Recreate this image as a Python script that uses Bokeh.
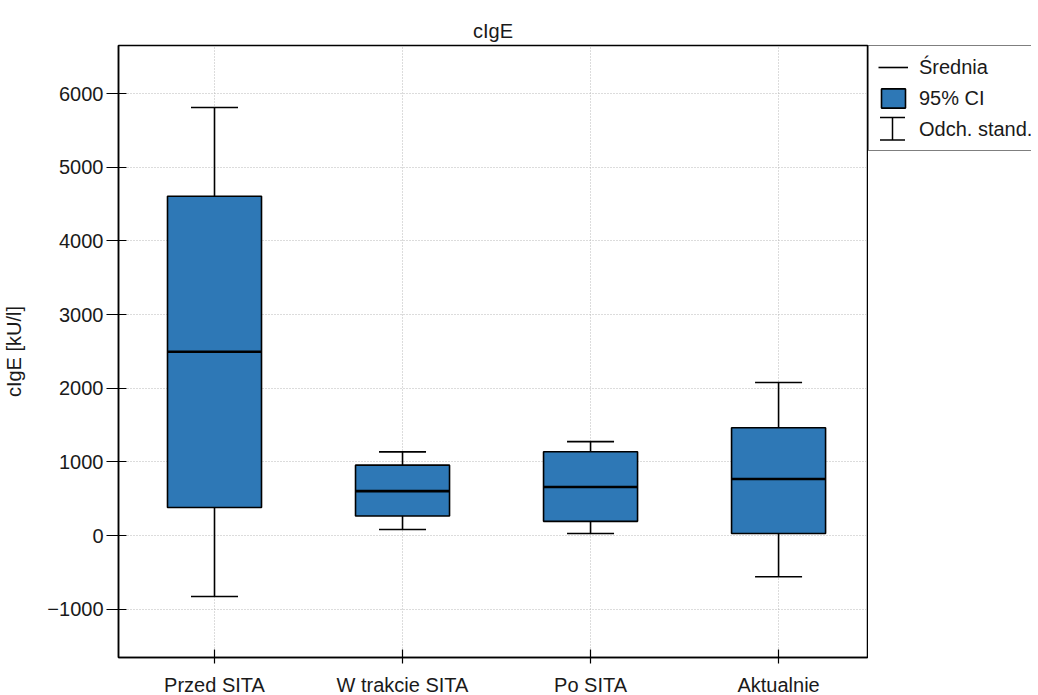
from bokeh.plotting import figure
from bokeh.layouts import row
from bokeh.models import (Range1d, FixedTicker, Legend, LegendItem,
                          ColumnDataSource)
from bokeh.embed import file_html
from bokeh.resources import INLINE

# ---- data ----
categories = ["Przed SITA", "W trakcie SITA", "Po SITA", "Aktualnie"]
positions = [1, 2, 3, 4]
means = [2495, 603, 658, 767]
ci_low = [380, 265, 192, 27]
ci_high = [4605, 955, 1137, 1462]
sd_low = [-828, 82, 27, -560]
sd_high = [5810, 1135, 1275, 2078]
y_ticks = [-1000, 0, 1000, 2000, 3000, 4000, 5000, 6000]
legend_labels = ["Średnia", "95% CI", "Odch. stand."]

FONT = "Liberation Sans"
FS = "20px"
BOX_W = 0.5
CAP_W = 0.25
BLUE = "#2e78b6"
TXT = "#1a1a1a"

src = ColumnDataSource(dict(
    x=positions, mean=means, lo=ci_low, hi=ci_high, sdl=sd_low, sdh=sd_high,
    bl=[x - BOX_W / 2 for x in positions], br=[x + BOX_W / 2 for x in positions],
    cl=[x - CAP_W / 2 for x in positions], cr=[x + CAP_W / 2 for x in positions],
))

p = figure(frame_width=749, frame_height=612,
           min_border_left=109, min_border_right=1,
           min_border_top=45, min_border_bottom=38,
           x_range=Range1d(0.4894, 4.473), y_range=Range1d(-1656, 6652),
           output_backend="svg", toolbar_location=None, title="cIgE")

p.background_fill_color = "white"
p.border_fill_color = "white"
p.outline_line_color = "black"
p.outline_line_width = 1.5

p.title.align = "center"
p.title.text_font = FONT
p.title.text_font_size = FS
p.title.text_font_style = "normal"
p.title.text_color = TXT
p.title.standoff = 8

# axes
p.xaxis.ticker = FixedTicker(ticks=positions)
p.xaxis.major_label_overrides = {x: c for x, c in zip(positions, categories)}
p.yaxis.ticker = FixedTicker(ticks=y_ticks)
p.yaxis.axis_label = "cIgE [kU/l]"
for ax in (p.xaxis, p.yaxis):
    ax.axis_line_color = "black"
    ax.axis_line_width = 1.5
    ax.major_tick_line_color = "black"
    ax.major_tick_line_width = 1.2
    ax.minor_tick_line_color = None
    ax.major_label_text_font = FONT
    ax.major_label_text_font_size = FS
    ax.major_label_text_color = TXT
    ax.axis_label_text_font = FONT
    ax.axis_label_text_font_size = FS
    ax.axis_label_text_font_style = "normal"
    ax.axis_label_text_color = TXT
p.xaxis.major_tick_in = 8
p.xaxis.major_tick_out = 6
p.xaxis.major_label_standoff = 10
p.yaxis.major_tick_in = 8
p.yaxis.major_tick_out = 12
p.yaxis.major_label_standoff = 3
p.yaxis.axis_label_standoff = 19

for g in (p.xgrid, p.ygrid):
    g.grid_line_color = "#b8b8b8"
    g.grid_line_dash = "1 2"
    g.grid_line_width = 1

# SD stems and caps
p.segment(x0="x", y0="sdl", x1="x", y1="sdh", source=src,
          line_color="black", line_width=1.6)
p.segment(x0="cl", y0="sdh", x1="cr", y1="sdh", source=src,
          line_color="black", line_width=1.6)
p.segment(x0="cl", y0="sdl", x1="cr", y1="sdl", source=src,
          line_color="black", line_width=1.6)

# 95% CI boxes
p.vbar(x="x", width=BOX_W, bottom="lo", top="hi", source=src,
       fill_color=BLUE, line_color="black", line_width=1.6)

# means
p.segment(x0="bl", y0="mean", x1="br", y1="mean", source=src,
          line_color="black", line_width=2.6)

# ---- legend panel (separate figure to the right of the plot frame) ----
lg = figure(width=163, height=687, min_border=0, min_border_top=45,
            x_range=Range1d(0, 163), y_range=Range1d(642, 0),
            x_axis_type=None, y_axis_type=None,
            output_backend="svg", toolbar_location=None)
lg.outline_line_color = None
lg.background_fill_color = "white"
lg.border_fill_color = "white"
lg.xgrid.visible = False
lg.ygrid.visible = False
# sample glyphs placed outside the visible range (only used for legend swatches)
sample = ColumnDataSource(dict(x0=[-60], x1=[-40], x=[-50], y=[-60],
                               top=[-50], bottom=[-70], t=[""]))
r_mean = lg.segment(x0="x0", y0="y", x1="x1", y1="y", source=sample,
                    line_color="black", line_width=1.6)
r_box = lg.vbar(x="x", width=20, top="top", bottom="bottom", source=sample,
                fill_color=BLUE, line_color="black", line_width=1.6)
r_sd = lg.text(x="x", y="y", text="t", source=sample)

# I-beam symbol for the SD legend entry (visible through transparent legend)
ibeam = ColumnDataSource(dict(x=[24, 11.5, 11.5], x1=[24, 36.5, 36.5],
                              y0=[77, 77, 101], y1=[101, 77, 101]))
lg.segment(x0="x", y0="y0", x1="x1", y1="y1", source=ibeam,
           line_color="black", line_width=1.5)

legend = Legend(items=[
    LegendItem(label=legend_labels[0], renderers=[r_mean]),
    LegendItem(label=legend_labels[1], renderers=[r_box]),
    LegendItem(label=legend_labels[2], renderers=[r_sd]),
], location="top_left")
legend.margin = 0
legend.padding = 9
legend.spacing = 7
legend.glyph_width = 30
legend.glyph_height = 24
legend.label_height = 24
legend.label_standoff = 11
legend.label_text_font = FONT
legend.label_text_font_size = FS
legend.label_text_color = TXT
legend.border_line_color = "black"
legend.border_line_width = 1.2
legend.background_fill_alpha = 0.0
lg.add_layout(legend)

layout = row(p, lg, spacing=0)
open("out.html", "w").write(file_html(layout, INLINE))
